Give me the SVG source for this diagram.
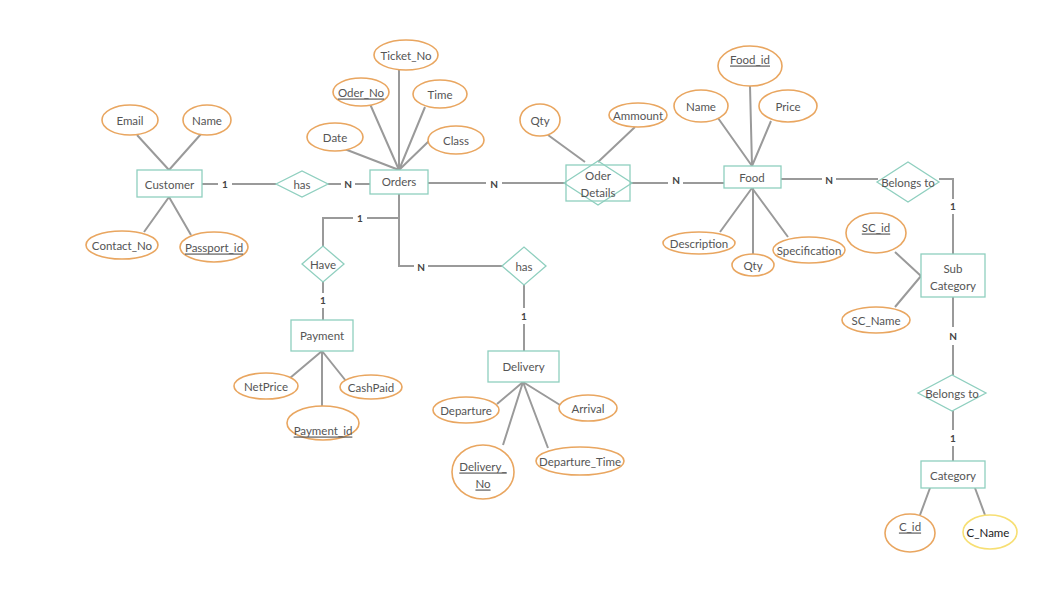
<svg xmlns="http://www.w3.org/2000/svg" width="1061" height="600" viewBox="0 0 1061 600">
<style>
.e{fill:#fff;stroke:#8fcfbf;stroke-width:1.3}
.a{fill:#fff;stroke:#e9a660;stroke-width:1.6}
.y{fill:#fff;stroke:#f7df73;stroke-width:1.6}
.l{stroke:#9a9a9a;stroke-width:2;fill:none}
text{font-family:Lato,"Liberation Sans",sans-serif;font-size:11.5px;fill:#555;text-anchor:middle;dominant-baseline:central}
.c{font-size:10px;font-weight:bold;fill:#444}
.u{text-decoration:underline}
</style>
<rect width="1061" height="600" fill="#fff"/>
<g id="connectors">
<path class="l" d="M137,135L169,170M201,134L169,170M144,232L169,197M191,235L169,197"/>
<path class="l" d="M202,184H218M232,184H276M328,184H341M355,184H370"/>
<path class="l" d="M399,68V170M370,104L399,170M425,107L399,170M342,148L399,170M430,140L399,170"/>
<path class="l" d="M428,183H486M502,183H566M630,183H668M683,183H724"/>
<path class="l" d="M548,135L585,162M635,127L598,162"/>
<path class="l" d="M750,86L752,166M718,118L752,166M771,121L752,166M720,232L752,188M753,254V188M788,237L752,188"/>
<path class="l" d="M781,179H822M836,179H878M939,179H953V199M953,214V254"/>
<path class="l" d="M921,276L895,252M921,276L895,307"/>
<path class="l" d="M953,297V327M953,345V375M953,411V430M953,446V461"/>
<path class="l" d="M930,488L920,515M975,488L985,515"/>
<path class="l" d="M399,194V266H414M428,266H502M399,218H367M353,218H323V246M323,282V293M323,308V320"/>
<path class="l" d="M322,351L290,378M322,351L346,381M322,351V406"/>
<path class="l" d="M524,285V308M524,324V351"/>
<path class="l" d="M523,382L497,404M523,382L560,405M523,382L503,445M523,382L548,448"/>
<text class="c" x="225" y="184">1</text>
<text class="c" x="348" y="184">N</text>
<text class="c" x="494" y="184">N</text>
<text class="c" x="676" y="180">N</text>
<text class="c" x="829" y="180">N</text>
<text class="c" x="953" y="206">1</text>
<text class="c" x="953" y="336">N</text>
<text class="c" x="953" y="438">1</text>
<text class="c" x="360" y="218">1</text>
<text class="c" x="323" y="300">1</text>
<text class="c" x="421" y="267">N</text>
<text class="c" x="524" y="316">1</text>
</g>
<g id="customer"><rect class="e" x="137" y="170" width="65" height="27"/><text x="169.5" y="184">Customer</text></g>
<g id="email"><ellipse class="a" cx="130" cy="120" rx="28" ry="15"/><text x="130" y="120">Email</text></g>
<g id="cname"><ellipse class="a" cx="207" cy="120" rx="24" ry="15"/><text x="207" y="120">Name</text></g>
<g id="contact"><ellipse class="a" cx="122" cy="245" rx="36" ry="14"/><text x="122" y="245">Contact_No</text></g>
<g id="passport"><ellipse class="a" cx="214" cy="247" rx="34" ry="15"/><text class="u" x="214" y="247">Passport_id</text></g>
<g id="has1"><polygon class="e" points="276,184 302,171 328,184 302,197"/><text x="302" y="184">has</text></g>
<g id="orders"><rect class="e" x="370" y="170" width="58" height="24"/><text x="399" y="181">Orders</text></g>
<g id="ticket"><ellipse class="a" cx="406" cy="55" rx="32" ry="15"/><text x="406" y="55">Ticket_No</text></g>
<g id="oderno"><ellipse class="a" cx="361" cy="92" rx="28" ry="14"/><text class="u" x="361" y="92">Oder_No</text></g>
<g id="time"><ellipse class="a" cx="440" cy="94" rx="27" ry="14"/><text x="440" y="94">Time</text></g>
<g id="date"><ellipse class="a" cx="335" cy="137" rx="28" ry="14"/><text x="335" y="137">Date</text></g>
<g id="class"><ellipse class="a" cx="456" cy="140" rx="28" ry="14"/><text x="456" y="140">Class</text></g>
<g id="oderdetails"><rect class="e" x="566" y="165" width="64" height="36"/><polygon class="e" points="564,183 598,161 632,183 598,205" fill="none" style="fill:none"/><text x="598" y="175">Oder</text><text x="598" y="192">Details</text></g>
<g id="qty1"><ellipse class="a" cx="540" cy="120" rx="20" ry="16"/><text x="540" y="120">Qty</text></g>
<g id="ammount"><ellipse class="a" cx="638" cy="115" rx="29" ry="12"/><text x="638" y="115">Ammount</text></g>
<g id="food"><rect class="e" x="724" y="166" width="57" height="22"/><text x="752" y="177">Food</text></g>
<g id="foodid"><ellipse class="a" cx="750" cy="66" rx="32" ry="20"/><text class="u" x="750" y="59">Food_id</text></g>
<g id="fname"><ellipse class="a" cx="701" cy="106" rx="27" ry="16"/><text x="701" y="106">Name</text></g>
<g id="price"><ellipse class="a" cx="788" cy="106" rx="29" ry="16"/><text x="788" y="106">Price</text></g>
<g id="desc"><ellipse class="a" cx="699" cy="243" rx="36" ry="11"/><text x="699" y="243">Description</text></g>
<g id="qty2"><ellipse class="a" cx="753" cy="265" rx="21" ry="11"/><text x="753" y="265">Qty</text></g>
<g id="spec"><ellipse class="a" cx="809" cy="250" rx="36" ry="13"/><text x="809" y="250">Specification</text></g>
<g id="belongs1"><polygon class="e" points="877,182 908,162 939,182 908,202"/><text x="908" y="182">Belongs to</text></g>
<g id="subcat"><rect class="e" x="921" y="254" width="64" height="43"/><text x="953" y="268">Sub</text><text x="953" y="285">Category</text></g>
<g id="scid"><ellipse class="a" cx="876" cy="233" rx="30" ry="20"/><text class="u" x="876" y="227">SC_id</text></g>
<g id="scname"><ellipse class="a" cx="876" cy="320" rx="34" ry="13"/><text x="876" y="320">SC_Name</text></g>
<g id="belongs2"><polygon class="e" points="918,393 952,375 986,393 952,411"/><text x="952" y="393">Belongs to</text></g>
<g id="category"><rect class="e" x="921" y="461" width="64" height="27"/><text x="953" y="475">Category</text></g>
<g id="cid"><ellipse class="a" cx="910" cy="533" rx="25" ry="19"/><text class="u" x="910" y="526">C_id</text></g>
<g id="cnamecat"><ellipse class="y" cx="990" cy="532" rx="27" ry="17"/><text x="988" y="532" style="fill:#222">C_Name</text></g>
<g id="have"><polygon class="e" points="302,264 323,246 344,264 323,282"/><text x="323" y="264">Have</text></g>
<g id="payment"><rect class="e" x="291" y="320" width="62" height="31"/><text x="322" y="335">Payment</text></g>
<g id="netprice"><ellipse class="a" cx="266" cy="386" rx="32" ry="13"/><text x="266" y="386">NetPrice</text></g>
<g id="cashpaid"><ellipse class="a" cx="371" cy="387" rx="31" ry="12"/><text x="371" y="387">CashPaid</text></g>
<g id="paymentid"><ellipse class="a" cx="323" cy="423" rx="36" ry="17"/><text class="u" x="323" y="430">Payment_id</text></g>
<g id="has2"><polygon class="e" points="502,266 524,247 546,266 524,285"/><text x="524" y="266">has</text></g>
<g id="delivery"><rect class="e" x="488" y="351" width="71" height="31"/><text x="523.5" y="366">Delivery</text></g>
<g id="departure"><ellipse class="a" cx="466" cy="410" rx="33" ry="13"/><text x="466" y="410">Departure</text></g>
<g id="arrival"><ellipse class="a" cx="588" cy="408" rx="29" ry="13"/><text x="588" y="408">Arrival</text></g>
<g id="deliveryno"><ellipse class="a" cx="483" cy="472" rx="31" ry="27"/><text class="u" x="483" y="466">Delivery_</text><text class="u" x="483" y="483">No</text></g>
<g id="deptime"><ellipse class="a" cx="580" cy="461" rx="44" ry="14"/><text x="580" y="461">Departure_Time</text></g>
</svg>
